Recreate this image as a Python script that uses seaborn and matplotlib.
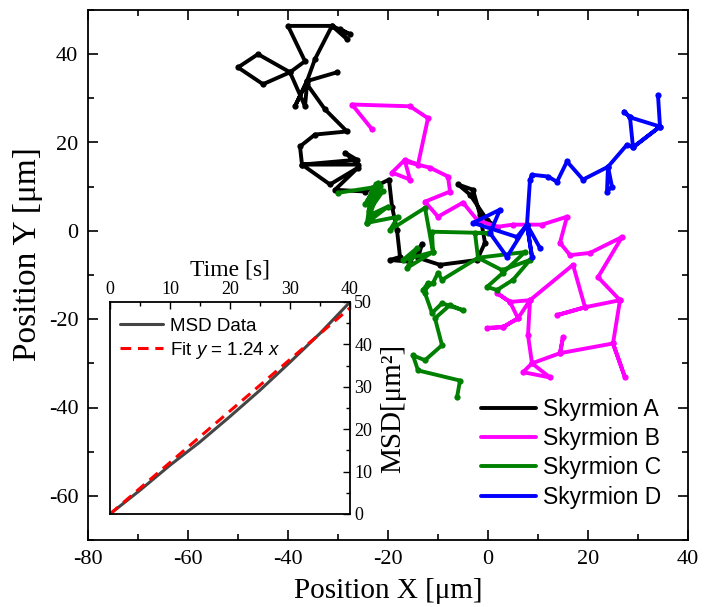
import matplotlib
matplotlib.use("Agg")
import matplotlib.pyplot as plt
from matplotlib.lines import Line2D
from matplotlib.ticker import MultipleLocator
import seaborn as sns
import pandas as pd

# ---------------- data ----------------
A_x = [-30.2, -36.2, -38.6, -36.2, -34.6, -31.2, -27.6, -29.6, -28.2, -31.2, -40.0, -36.6, -39.6,
       -46.0, -50.0, -45.0, -39.6, -36.6, -36.2, -32.6, -28.2, -34.6, -37.6, -37.2, -26.2, -28.6,
       -26.0, -37.2, -31.6, -26.0, -30.6, -24.6, -19.8, -19.2, -18.2, -17.6, -19.6, -15.6, -13.2,
       -14.0, -9.6, -2.2, -0.6, -1.6, -3.0, -6.0, -3.6, -0.2, 1.8]
A_y = [35.9, 33.9, 28.2, 33.9, 38.9, 46.4, 44.5, 45.7, 43.4, 46.4, 46.4, 38.4, 35.9,
       40.0, 37.0, 33.2, 35.9, 28.2, 33.2, 27.5, 22.5, 21.8, 19.1, 15.0, 16.1, 17.7,
       15.0, 15.0, 10.5, 14.3, 9.3, 8.9, 11.6, 5.5, 0.2, -5.9, -6.6, -7.0, -3.0,
       -6.1, -7.7, -6.6, -2.7, 3.6, 9.3, 10.5, 8.2, 2.5, 0.7]

B_x = [-23.2, -27.2, -15.6, -12.0, -14.0, -16.6, -19.2, -15.6, -16.6, -11.6, -8.0, -7.6, -12.6,
       -10.0, -5.0, -2.2, 1.8, 5.0, 10.8, 15.8, 14.4, 16.4, 20.4, 26.8, 22.0, 26.4, 25.0, 27.4,
       25.0, 14.4, 15.0, 14.4, 8.8, 7.0, 12.4, 8.8, 8.0, 8.4, 4.4, 1.8, 4.4, 6.0, 3.0, -0.2,
       3.0, 6.0, 8.4, 17.0, 19.4, 13.8, 19.4, 26.4]
B_y = [23.0, 28.6, 28.2, 25.5, 15.0, 16.1, 13.2, 11.6, 15.7, 14.3, 12.3, 8.9, 6.6,
       3.2, 6.4, 2.5, 0.9, 1.4, 1.4, 3.2, -2.7, -5.5, -5.0, -1.4, -10.5, -15.7, -25.5, -33.2,
       -25.5, -27.7, -24.1, -27.7, -30.0, -32.0, -33.2, -30.0, -23.6, -15.7, -16.1, -14.1, -16.1,
       -19.8, -21.8, -22.0, -21.8, -19.8, -15.7, -7.7, -17.3, -19.1, -17.3, -15.7]

C_x = [-30.0, -23.2, -24.2, -22.0, -24.6, -21.0, -23.8, -22.4, -24.0, -21.6, -23.6, -20.0, -24.2,
       -18.0, -19.6, -12.6, -11.0, -17.0, -14.2, -16.2, -11.0, -11.2, 0.0, -2.6, -2.0, 2.8, 8.4,
       5.0, 1.8, -0.2, 3.0, 7.4, -2.0, -9.2, -10.0, -11.0, -13.0, -12.0, -12.6, -11.2, -9.2, -5.0,
       -7.6, -10.6, -9.2, -12.6, -15.0, -14.0, -5.6, -6.2]
C_y = [8.6, 9.8, 1.8, 10.9, 6.0, 9.0, 4.5, 10.6, 7.0, 10.2, 3.6, 5.5, 1.8,
       3.2, 0.2, 5.2, -4.8, -6.6, -3.9, -8.4, -4.8, -0.2, -0.5, -0.5, -6.1, -8.9, -6.6,
       -11.1, -13.4, -12.7, -9.5, -4.8, -6.1, -11.1, -9.5, -11.8, -13.4, -11.8, -14.1, -18.6,
       -16.4, -18.0, -16.8, -19.8, -25.9, -29.3, -28.2, -31.6, -33.9, -37.7]

D_x = [10.4, 7.8, 8.8, 7.8, 3.8, 0.4, 2.4, -3.0, 5.8, 7.8, 8.4, 8.8, 12.0, 13.8, 15.8, 19.0,
       24.0, 23.8, 24.8, 24.0, 27.8, 29.0, 28.4, 27.2, 28.4, 34.4, 29.0, 34.4, 34.0]
D_y = [-3.9, 1.4, -5.9, 1.4, -5.9, -0.5, 4.8, 1.8, -1.4, 1.4, 11.6, 12.7, 12.3, 11.1, 15.7, 11.6,
       14.5, 8.9, 10.0, 14.5, 19.5, 18.9, 25.7, 27.0, 25.7, 23.6, 18.9, 23.6, 30.7]

names = ["Skyrmion A", "Skyrmion B", "Skyrmion C", "Skyrmion D"]
colors = ["#000000", "#FF00FF", "#008000", "#0000FF"]

msd_t = [0, 5, 10, 15, 20, 25, 30, 35, 40]
msd_v = [0, 5.6, 11.5, 17.0, 23.0, 29.2, 35.8, 42.6, 50.0]
fit_t = [0, 40]
fit_v = [0, 48.6]

# ---------------- style ----------------
sns.set_style("ticks")
plt.rcParams["font.family"] = ["Liberation Serif", "DejaVu Serif"]
plt.rcParams["mathtext.fontset"] = "custom"
plt.rcParams["mathtext.rm"] = "Liberation Sans"
plt.rcParams["mathtext.it"] = "Liberation Sans:italic"
plt.rcParams["axes.unicode_minus"] = False
for k in ["text.color", "axes.labelcolor", "xtick.color", "ytick.color", "axes.edgecolor"]:
    plt.rcParams[k] = "black"

fig = plt.figure(figsize=(7.06, 6.07), dpi=100)
ax = fig.add_axes([88 / 706, 1 - 540 / 607, 600 / 706, 530 / 607])

traj = [(A_x, A_y), (B_x, B_y), (C_x, C_y), (D_x, D_y)]
for (xs, ys), nm, c in zip(traj, names, colors):
    df = pd.DataFrame({"x": xs, "y": ys})
    sns.lineplot(data=df, x="x", y="y", sort=False, estimator=None, ax=ax,
                 color=c, linewidth=2.8, marker="o", markersize=4.5,
                 markeredgewidth=0, legend=False)

ax.set_xlim(-80, 40)
ax.set_ylim(-70, 50)
ax.xaxis.set_major_locator(MultipleLocator(20))
ax.xaxis.set_minor_locator(MultipleLocator(10))
ax.yaxis.set_major_locator(MultipleLocator(20))
ax.yaxis.set_minor_locator(MultipleLocator(10))
ax.tick_params(which="both", direction="in", top=True, right=True, width=1.2)
ax.tick_params(which="major", length=7, labelsize=16, pad=7)
ax.tick_params(which="minor", length=4)
for s in ax.spines.values():
    s.set_linewidth(1.3)
ax.set_xlabel("Position X [μm]", fontsize=21, labelpad=7)
ax.set_ylabel("Position Y [μm]", fontsize=24)
ax.yaxis.set_label_coords(-0.075, 0.54)

handles = [Line2D([], [], color=c, lw=2.8) for c in colors]
ax.legend(handles, names, loc="upper left", bbox_to_anchor=(0.655, 0.268),
          frameon=False, prop={"family": "Liberation Sans", "size": 16.5},
          handlelength=2.4, handletextpad=0.3, labelspacing=0.27, borderpad=0,
          borderaxespad=0)

# ---------------- inset ----------------
ins = fig.add_axes([110 / 706, 1 - 514 / 607, 240 / 706, 212 / 607])
ins.set_facecolor("white")
sns.lineplot(x=msd_t, y=msd_v, ax=ins, color="#454545", linewidth=2.2,
             label="MSD Data", sort=False, estimator=None)
sns.lineplot(x=fit_t, y=fit_v, ax=ins, color="#FF0000", linewidth=2.2,
             label=r"Fit $y$ = $\mathit{1.24\ x}$", sort=False, estimator=None)
ins.lines[1].set_dashes((3.5, 2.2))
ins.set_xlim(0, 40)
ins.set_ylim(0, 50)
ins.xaxis.set_major_locator(MultipleLocator(10))
ins.xaxis.set_minor_locator(MultipleLocator(5))
ins.yaxis.set_major_locator(MultipleLocator(10))
ins.yaxis.set_minor_locator(MultipleLocator(5))
ins.xaxis.tick_top()
ins.xaxis.set_label_position("top")
ins.yaxis.tick_right()
ins.yaxis.set_label_position("right")
ins.tick_params(which="both", direction="in", width=1.0)
ins.tick_params(which="major", length=5, labelsize=13, pad=3)
ins.tick_params(which="minor", length=3)
for s in ins.spines.values():
    s.set_linewidth(1.3)
ins.set_xlabel("Time [s]", fontsize=17, labelpad=4)
ins.set_ylabel("MSD[μm²]", fontsize=21, labelpad=6)
hl = ins.get_legend_handles_labels()
ins.legend(hl[0], hl[1], loc="upper left", bbox_to_anchor=(0.04, 0.925), frameon=False,
           prop={"family": "Liberation Sans", "size": 13.5},
           handlelength=2.3, handletextpad=0.4, labelspacing=0.25, borderpad=0,
           borderaxespad=0)
ins.get_legend().legend_handles[1].set_dashes((3.5, 2.2))

fig.savefig("out.png", dpi=100)
